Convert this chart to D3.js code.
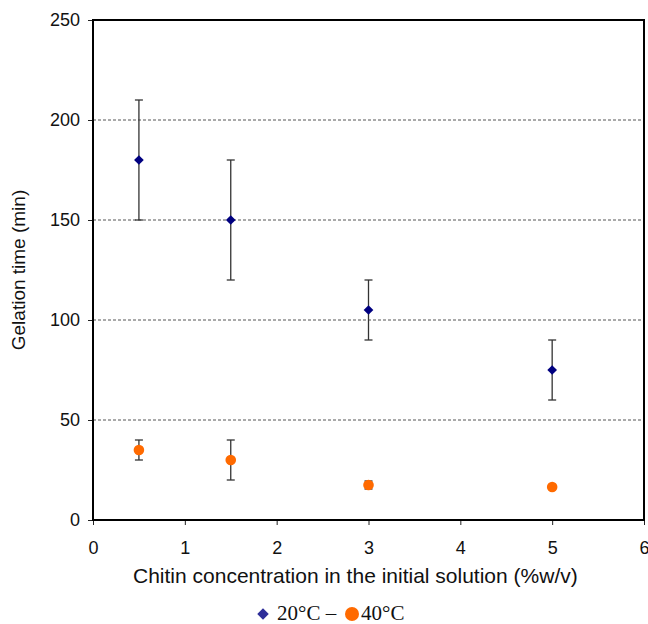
<!DOCTYPE html>
<html>
<head>
<meta charset="utf-8">
<script src="https://cdn.jsdelivr.net/npm/d3@7"></script>
<style>
  body { margin: 0; background: #fff; }
  svg text { font-family: "Liberation Sans", Arial, sans-serif; }
</style>
</head>
<body>
<div id="chart"></div>
<script>
// data
const conc = [0.5, 1.5, 3, 5];
const time20 = [180, 150, 105, 75];
const low20 = [150, 120, 90, 60];
const high20 = [210, 180, 120, 90];
const time40 = [35, 30, 17.5, 16.5];
const low40 = [30, 20, 15.5, 16.5];
const high40 = [40, 40, 19.5, 16.5];
const yTicks = [0, 50, 100, 150, 200, 250];
const xTicks = [0, 1, 2, 3, 4, 5, 6];

const width = 648, height = 624;
const margin = {left: 93, top: 20, right: 4, bottom: 104};
const chartWidth = width - margin.left - margin.right;
const chartHeight = height - margin.top - margin.bottom;

const svg = d3.select("#chart").append("svg").attr("width", width).attr("height", height);
const g = svg.append("g").attr("transform", `translate(${margin.left},${margin.top})`);

const x_scale = d3.scaleLinear().domain([0, 6]).range([0, chartWidth]);
const y_scale = d3.scaleLinear().domain([0, 250]).range([chartHeight, 0]);

// dotted gridlines
g.selectAll(".grid")
    .data(yTicks.filter(d => d > 0 && d < 250))
    .enter()
    .append("line")
    .attr("x1", 0).attr("x2", chartWidth)
    .attr("y1", d => y_scale(d)).attr("y2", d => y_scale(d))
    .attr("stroke", "#555")
    .attr("stroke-width", 1)
    .attr("stroke-dasharray", "3,2");

// axes
const x_axis = d3.axisBottom(x_scale).tickValues(xTicks).tickFormat(d3.format("d")).tickSize(5).tickPadding(16);
const xg = g.append("g").attr("transform", `translate(0,${chartHeight})`).call(x_axis);
const y_axis = d3.axisLeft(y_scale).tickValues(yTicks).tickFormat(d3.format("d")).tickSize(5).tickPadding(8);
const yg = g.append("g").call(y_axis);
[xg, yg].forEach(a => {
    a.select(".domain").remove();
    a.selectAll("text").style("font-size", "18px").attr("fill", "#111");
    a.selectAll("line").attr("stroke", "#222");
});

// frame
g.append("rect")
    .attr("x", 0).attr("y", 0)
    .attr("width", chartWidth).attr("height", chartHeight)
    .attr("fill", "none")
    .attr("stroke", "#000")
    .attr("stroke-width", 2);

// error bars
function errorBars(lo, hi) {
    const eb = g.append("g").attr("stroke", "#333").attr("stroke-width", 1.3);
    conc.forEach((c, i) => {
        if (hi[i] - lo[i] < 1) return;
        const cx = x_scale(c);
        eb.append("line").attr("x1", cx).attr("x2", cx).attr("y1", y_scale(lo[i])).attr("y2", y_scale(hi[i]));
        eb.append("line").attr("x1", cx - 4).attr("x2", cx + 4).attr("y1", y_scale(lo[i])).attr("y2", y_scale(lo[i]));
        eb.append("line").attr("x1", cx - 4).attr("x2", cx + 4).attr("y1", y_scale(hi[i])).attr("y2", y_scale(hi[i]));
    });
}
errorBars(low20, high20);
errorBars(low40, high40);

const diamond = d3.symbol().type(d3.symbolDiamond2).size(60);

g.selectAll(".p20")
    .data(conc.map((c, i) => ({c, v: time20[i]})))
    .enter()
    .append("path")
    .attr("d", diamond)
    .attr("transform", d => `translate(${x_scale(d.c)},${y_scale(d.v)})`)
    .attr("fill", "#000080");

g.selectAll(".p40")
    .data(conc.map((c, i) => ({c, v: time40[i]})))
    .enter()
    .append("circle")
    .attr("cx", d => x_scale(d.c))
    .attr("cy", d => y_scale(d.v))
    .attr("r", 5.3)
    .attr("fill", "#ff6a00");

// axis labels
svg.append("text")
    .attr("x", 133)
    .attr("y", 583)
    .style("font-size", "21px")
    .attr("fill", "#111")
    .text("Chitin concentration in the initial solution (%w/v)");

svg.append("text")
    .attr("transform", "rotate(-90)")
    .attr("x", -(margin.top + chartHeight / 2))
    .attr("y", 25)
    .style("text-anchor", "middle")
    .style("font-size", "19px")
    .attr("fill", "#111")
    .text("Gelation time (min)");

// legend
const serif = "'Liberation Serif', 'Times New Roman', serif";
const legend = svg.append("g").attr("transform", "translate(263,614)");
legend.append("path").attr("d", d3.symbol().type(d3.symbolDiamond2).size(84)).attr("fill", "#2e2e99");
legend.append("text").attr("x", 14).attr("y", 6)
    .style("font-family", serif)
    .style("font-size", "21px").attr("fill", "#111")
    .text("20°C –");
legend.append("circle").attr("cx", 89).attr("cy", 0).attr("r", 7).attr("fill", "#ff6a00");
legend.append("text").attr("x", 98).attr("y", 6)
    .style("font-family", serif)
    .style("font-size", "21px").attr("fill", "#111")
    .text("40°C");
</script>
</body>
</html>
